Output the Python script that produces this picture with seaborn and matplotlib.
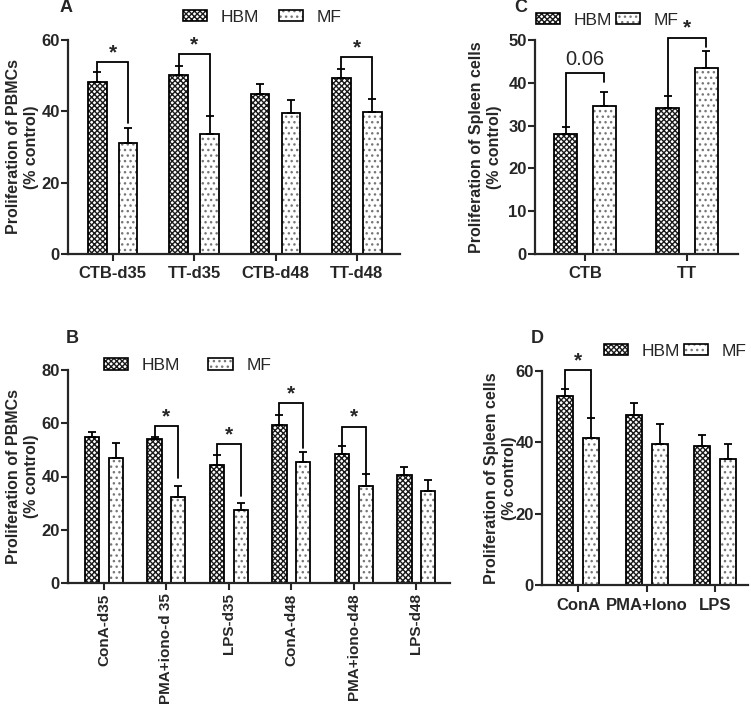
import numpy as np
import pandas as pd
import matplotlib
matplotlib.use("Agg")
import matplotlib.pyplot as plt
import matplotlib.patches as mpatches
import seaborn as sns

# ---------------- data ----------------
groups = ["HBM", "MF"]

cats_A = ["CTB-d35", "TT-d35", "CTB-d48", "TT-d48"]
hbm_A = [48.3, 50.2, 45.0, 49.3]
hbm_A_sem = [2.8, 2.5, 2.6, 2.5]
mf_A = [31.0, 33.7, 39.4, 39.8]
mf_A_sem = [4.2, 4.9, 3.8, 3.7]
sig_A = [(0, 53.8, 51.1, 36.6, "*"), (1, 56.0, 52.7, 38.5, "*"), (3, 55.1, 51.8, 43.5, "*")]

cats_C = ["CTB", "TT"]
hbm_C = [28.0, 34.2]
hbm_C_sem = [1.75, 2.6]
mf_C = [34.6, 43.4]
mf_C_sem = [3.25, 4.0]
sig_C = [(0, 42.4, 29.75, 40.3, "0.06"), (1, 50.5, 36.8, 48.4, "*")]

cats_B = ["ConA-d35", "PMA+iono-d 35", "LPS-d35", "ConA-d48", "PMA+iono-d48", "LPS-d48"]
hbm_B = [55.0, 54.0, 44.4, 59.5, 48.6, 40.6]
hbm_B_sem = [1.9, 1.0, 3.5, 3.5, 3.0, 2.8]
mf_B = [46.9, 32.25, 27.5, 45.5, 36.6, 34.6]
mf_B_sem = [5.85, 4.35, 2.5, 3.75, 4.3, 4.15]
sig_B = [(1, 59.0, 55.0, 39.4, "*"), (2, 52.1, 47.9, 32.5, "*"),
         (3, 67.5, 63.0, 50.6, "*"), (4, 58.75, 51.6, 40.6, "*")]

cats_D = ["ConA", "PMA+Iono", "LPS"]
hbm_D = [53.1, 47.6, 39.1]
hbm_D_sem = [1.8, 3.4, 2.9]
mf_D = [41.2, 39.5, 35.2]
mf_D_sem = [5.7, 5.7, 4.3]
sig_D = [(0, 60.2, 54.9, 46.9, "*")]

# ---------------- style ----------------
sns.set_style("ticks")
plt.rcParams["font.family"] = ["Liberation Sans", "DejaVu Sans"]
plt.rcParams["hatch.linewidth"] = 1.0

HATCH = {"HBM": "xxxxxx", "MF": "..."}
HATCH_COL = {"HBM": "#1a1a1a", "MF": "#777777"}

W, H = 751, 707
fig = plt.figure(figsize=(W / 100, H / 100), dpi=100)


def px_axes(left, top, right, bottom):
    return fig.add_axes([left / W, (H - bottom) / H, (right - left) / W, (bottom - top) / H])


def panel(ax, cats, hbm, hbm_sem, mf, mf_sem, sigs, ylim, yticks, xlim, ylabel, rot=0, xsize=12):
    df = pd.DataFrame({
        "cat": cats * 2,
        "group": ["HBM"] * len(cats) + ["MF"] * len(cats),
        "val": hbm + mf,
    })
    sns.barplot(data=df, x="cat", y="val", hue="group", order=cats, hue_order=groups,
                palette=["white", "white"], width=0.76, gap=0.4, errorbar=None,
                legend=False, edgecolor="black", linewidth=1.3, ax=ax)
    centers = {}
    for cont, g, sem in zip(ax.containers, groups, [hbm_sem, mf_sem]):
        xs, ys = [], []
        for p in cont:
            p.set_hatch(HATCH[g])
            p._hatch_color = matplotlib.colors.to_rgba(HATCH_COL[g])
            xs.append(p.get_x() + p.get_width() / 2)
            ys.append(p.get_height())
        centers[g] = xs
        ax.errorbar(xs, ys, yerr=[np.zeros(len(sem)), sem], fmt="none", ecolor="black",
                    elinewidth=1.3, capsize=3, capthick=1.3, zorder=3)
    for i, top, lb, rb, lab in sigs:
        x0, x1 = centers["HBM"][i], centers["MF"][i]
        ax.plot([x0, x0, x1, x1], [lb, top, top, rb], color="black", lw=1.3,
                clip_on=False, zorder=4, solid_joinstyle="miter")
        if lab == "*":
            ax.text((x0 + x1) / 2, top, "*", ha="center", va="bottom", fontsize=15,
                    fontweight="bold", clip_on=False)
        else:
            ax.text((x0 + x1) / 2, top + 0.8, lab, ha="center", va="bottom", fontsize=14.5,
                    clip_on=False)
    ax.set_ylim(*ylim)
    ax.set_yticks(yticks)
    ax.set_xlim(*xlim)
    ax.set_xlabel("")
    ax.set_ylabel(ylabel, fontsize=11.5, fontweight="bold", linespacing=1.25)
    for s in ["top", "right"]:
        ax.spines[s].set_visible(False)
    for s in ["left", "bottom"]:
        ax.spines[s].set_linewidth(1.6)
    ax.tick_params(axis="both", direction="out", length=5, width=1.5, labelsize=12)
    ax.tick_params(axis="x", pad=4 if rot == 0 else 2.5, labelsize=xsize)
    ax.tick_params(axis="y", pad=1)
    for t in ax.get_yticklabels():
        t.set_fontweight("bold")
    for t in ax.get_xticklabels():
        t.set_fontweight("bold")
        t.set_rotation(rot)


def legend(ax, x, y, colsp):
    handles = [mpatches.Patch(facecolor="white", edgecolor="black", hatch=HATCH[g], linewidth=1.2,
                              label=g) for g in groups]
    for h, g in zip(handles, groups):
        h._hatch_color = matplotlib.colors.to_rgba(HATCH_COL[g])
    ax.legend(handles=handles, loc="center", bbox_to_anchor=(x, y), ncol=2, frameon=False,
              fontsize=12.5, handlelength=1.4, handleheight=0.65, handletextpad=0.8,
              columnspacing=colsp, borderpad=0, borderaxespad=0)


axA = px_axes(68, 40, 400, 254)
panel(axA, cats_A, hbm_A, hbm_A_sem, mf_A, mf_A_sem, sig_A, (0, 60), [0, 20, 40, 60],
      (-0.55, 3.53), "Proliferation of PBMCs\n(% control)")
axA.yaxis.set_label_coords(-0.087, 0.5)
legend(axA, 0.585, 1.107, 1.1)

axC = px_axes(535, 40, 738, 254)
panel(axC, cats_C, hbm_C, hbm_C_sem, mf_C, mf_C_sem, sig_C, (0, 50), [0, 10, 20, 30, 40, 50],
      (-0.49, 1.5), "Proliferation of Spleen cells\n(% control)")
axC.yaxis.set_label_coords(-0.163, 0.5)
legend(axC, 0.355, 1.093, 0.2)

axB = px_axes(68, 370, 450, 583)
panel(axB, cats_B, hbm_B, hbm_B_sem, mf_B, mf_B_sem, sig_B, (0, 80), [0, 20, 40, 60, 80],
      (-0.576, 5.54), "Proliferation of PBMCs\n(% control)", rot=90, xsize=11)
axB.yaxis.set_label_coords(-0.076, 0.5)
legend(axB, 0.313, 1.02, 1.6)

axD = px_axes(542, 371, 748, 585)
panel(axD, cats_D, hbm_D, hbm_D_sem, mf_D, mf_D_sem, sig_D, (0, 60), [0, 20, 40, 60],
      (-0.53, 2.48), "Proliferation of Spleen cells\n(% control)")
axD.yaxis.set_label_coords(-0.121, 0.5)
legend(axD, 0.646, 1.093, 0.2)

for lab, (x, y) in zip("ACBD", [(66, 8), (521, 7), (72, 338), (537, 338)]):
    fig.text(x / W, 1 - y / H, lab, ha="center", va="center", fontsize=13, fontweight="bold")

fig.savefig("out.png", dpi=100)
